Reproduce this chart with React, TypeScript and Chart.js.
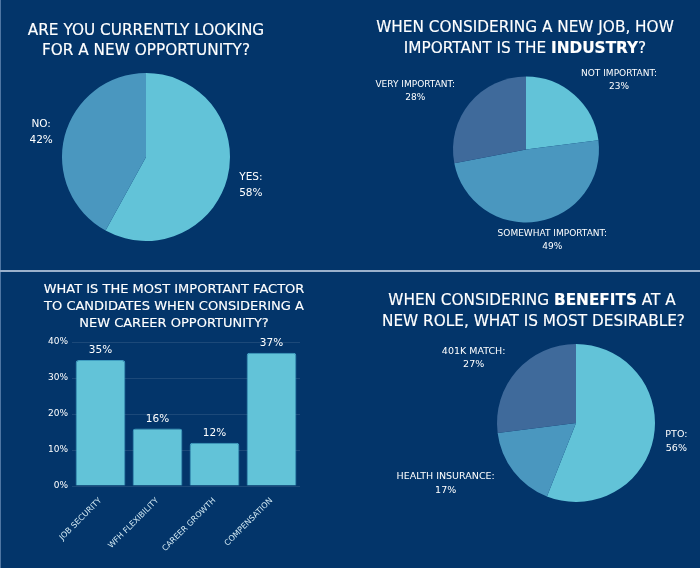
import React, { useEffect, useRef } from "react";
import { Chart, registerables } from "chart.js";

Chart.register(...registerables);

// ---- data ----
const lookingLabels = ["YES", "NO"];
const lookingValues = [58, 42];

const industryLabels = ["NOT IMPORTANT", "SOMEWHAT IMPORTANT", "VERY IMPORTANT"];
const industryValues = [23, 49, 28];

const factorLabels = ["JOB SECURITY", "WFH FLEXIBILITY", "CAREER GROWTH", "COMPENSATION"];
const factorValues = [35, 16, 12, 37];

const benefitLabels = ["PTO", "HEALTH INSURANCE", "401K MATCH"];
const benefitValues = [56, 17, 27];

const yMax = 40;
const yStep = 10;

// ---- style ----
const BG = "#03356A";
const PIE_COLORS = ["#62C3D8", "#4A97BF", "#3F6A9B"];
const BAR_COLOR = "#62C3D8";
const FONT = '"DejaVu Sans", "Noto Sans", sans-serif';

const pieLabelPlugin = {
  id: "pieLabels",
  afterDatasetsDraw(chart: any, _args: any, opts: any) {
    const meta = chart.getDatasetMeta(0);
    const ctx = chart.ctx;
    const ds = chart.data.datasets[0];
    const labels = chart.data.labels;
    ctx.save();
    ctx.font = `${opts.size}px ${FONT}`;
    ctx.fillStyle = "#ffffff";
    ctx.textAlign = "center";
    ctx.textBaseline = "middle";
    meta.data.forEach((arc: any, i: number) => {
      const p = arc.getProps(["x", "y", "startAngle", "endAngle", "outerRadius"], true);
      const mid = (p.startAngle + p.endAngle) / 2;
      const dx = Math.cos(mid);
      const dy = Math.sin(mid);
      const lines = [labels[i] + ":", ds.data[i] + "%"];
      const w = Math.max(...lines.map((l: string) => ctx.measureText(l).width));
      const h = lines.length * opts.lineHeight;
      const ax = p.x + dx * (p.outerRadius + 5 + 1.65 * (w / 2));
      const ay = p.y + dy * (p.outerRadius + 6 + h / 2) + (opts.yShift || 0);
      lines.forEach((l: string, j: number) => {
        ctx.fillText(l, ax, ay - h / 2 + opts.lineHeight * (j + 0.5));
      });
    });
    ctx.restore();
  },
};

const barValuePlugin = {
  id: "barValues",
  afterDatasetsDraw(chart: any) {
    const meta = chart.getDatasetMeta(0);
    const ctx = chart.ctx;
    const ds = chart.data.datasets[0];
    ctx.save();
    ctx.font = `10.5px ${FONT}`;
    ctx.fillStyle = "#ffffff";
    ctx.textAlign = "center";
    ctx.textBaseline = "bottom";
    meta.data.forEach((bar: any, i: number) => {
      ctx.fillText(ds.data[i] + "%", bar.x, bar.y - 4);
    });
    ctx.restore();
  },
};

type PieProps = {
  labels: string[];
  values: number[];
  left: number;
  top: number;
  width: number;
  height: number;
  padding: { left: number; right: number; top: number; bottom: number };
  labelSize: number;
  lineHeight: number;
  yShift: number;
};

function PieChart(props: PieProps) {
  const ref = useRef<HTMLCanvasElement | null>(null);
  useEffect(() => {
    if (!ref.current) return;
    const chart = new Chart(ref.current, {
      type: "pie",
      data: {
        labels: props.labels,
        datasets: [
          {
            data: props.values,
            backgroundColor: PIE_COLORS.slice(0, props.values.length),
            borderWidth: 0,
          },
        ],
      },
      options: {
        animation: false,
        responsive: false,
        layout: { padding: props.padding },
        plugins: {
          legend: { display: false },
          tooltip: { enabled: false },
          pieLabels: { size: props.labelSize, lineHeight: props.lineHeight, yShift: props.yShift },
        } as any,
      },
      plugins: [pieLabelPlugin as any],
    });
    return () => chart.destroy();
  }, []);
  return (
    <canvas
      ref={ref}
      width={props.width}
      height={props.height}
      style={{ position: "absolute", left: props.left, top: props.top, width: props.width, height: props.height }}
    />
  );
}

function BarChart() {
  const ref = useRef<HTMLCanvasElement | null>(null);
  useEffect(() => {
    if (!ref.current) return;
    const chart = new Chart(ref.current, {
      type: "bar",
      data: {
        labels: factorLabels,
        datasets: [
          {
            data: factorValues,
            backgroundColor: BAR_COLOR,
            borderColor: "#3f9ec2",
            borderWidth: 1,
            borderRadius: 3,
            categoryPercentage: 1,
            barPercentage: 0.873,
          },
        ],
      },
      options: {
        animation: false,
        responsive: false,
        layout: { padding: { top: 12, right: 0, left: 0, bottom: 0 } },
        plugins: {
          legend: { display: false },
          tooltip: { enabled: false },
        },
        scales: {
          x: {
            grid: { display: false },
            border: { display: false },
            ticks: {
              color: "#d3eaf4",
              font: { family: FONT, size: 8 },
              minRotation: 45,
              maxRotation: 45,
              padding: 2,
            },
            afterFit: (s: any) => {
              s.height = 82;
            },
          },
          y: {
            min: 0,
            max: yMax,
            grid: { color: "rgba(255,255,255,0.1)", drawTicks: false },
            border: { display: false },
            ticks: {
              stepSize: yStep,
              color: "#ffffff",
              font: { family: FONT, size: 9 },
              padding: 4,
              callback: (v: any) => v + "%",
            },
            afterFit: (s: any) => {
              s.width = 52;
            },
          },
        },
      },
      plugins: [barValuePlugin as any],
    });
    return () => chart.destroy();
  }, []);
  return (
    <canvas
      ref={ref}
      width={280}
      height={238}
      style={{ position: "absolute", left: 20, top: 330, width: 280, height: 238 }}
    />
  );
}

const titleBase: React.CSSProperties = {
  position: "absolute",
  textAlign: "center",
  color: "#ffffff",
  fontFamily: FONT,
  whiteSpace: "nowrap",
  zIndex: 2,
  WebkitTextStroke: "0.15px #ffffff",
};

export default function App() {
  useEffect(() => {
    document.body.style.margin = "0";
  }, []);
  return (
    <div
      style={{
        position: "fixed",
        left: 0,
        top: 0,
        width: 700,
        height: 568,
        background: BG,
        overflow: "hidden",
      }}
    >
      {/* left edge + separator */}
      <div style={{ position: "absolute", left: 0, top: 0, width: 1, height: 568, background: "#4f76a3" }} />
      <div style={{ position: "absolute", left: 0, top: 270, width: 700, height: 2, background: "#9bb1cc" }} />

      {/* titles */}
      <div style={{ ...titleBase, left: 0, width: 292, top: 20, fontSize: 15.3, lineHeight: "20px" }}>
        ARE YOU CURRENTLY LOOKING
        <br />
        FOR A NEW OPPORTUNITY?
      </div>
      <div style={{ ...titleBase, left: 375, width: 300, top: 17, fontSize: 15.3, lineHeight: "20.5px" }}>
        WHEN CONSIDERING A NEW JOB, HOW
        <br />
        IMPORTANT IS THE <b>INDUSTRY</b>?
      </div>
      <div style={{ ...titleBase, left: 24, width: 300, top: 280, fontSize: 13, lineHeight: "17px" }}>
        WHAT IS THE MOST IMPORTANT FACTOR
        <br />
        TO CANDIDATES WHEN CONSIDERING A
        <br />
        NEW CAREER OPPORTUNITY?
      </div>
      <div style={{ ...titleBase, left: 382, width: 300, top: 290, fontSize: 15.3, lineHeight: "20.5px" }}>
        WHEN CONSIDERING <b>BENEFITS</b> AT A
        <br />
        NEW ROLE, WHAT IS MOST DESIRABLE?
      </div>

      {/* charts */}
      <PieChart
        labels={lookingLabels}
        values={lookingValues}
        left={0}
        top={0}
        width={350}
        height={270}
        padding={{ left: 0, right: 58, top: 73, bottom: 29 }}
        labelSize={10.5}
        lineHeight={16}
        yShift={2}
      />
      <PieChart
        labels={industryLabels}
        values={industryValues}
        left={350}
        top={0}
        width={350}
        height={270}
        padding={{ left: 30, right: 28, top: 76.5, bottom: 47.5 }}
        labelSize={9}
        lineHeight={13}
        yShift={0}
      />
      <BarChart />
      <PieChart
        labels={benefitLabels}
        values={benefitValues}
        left={350}
        top={272}
        width={350}
        height={296}
        padding={{ left: 147, right: 45, top: 72, bottom: 66 }}
        labelSize={9.5}
        lineHeight={13.5}
        yShift={0}
      />
    </div>
  );
}
